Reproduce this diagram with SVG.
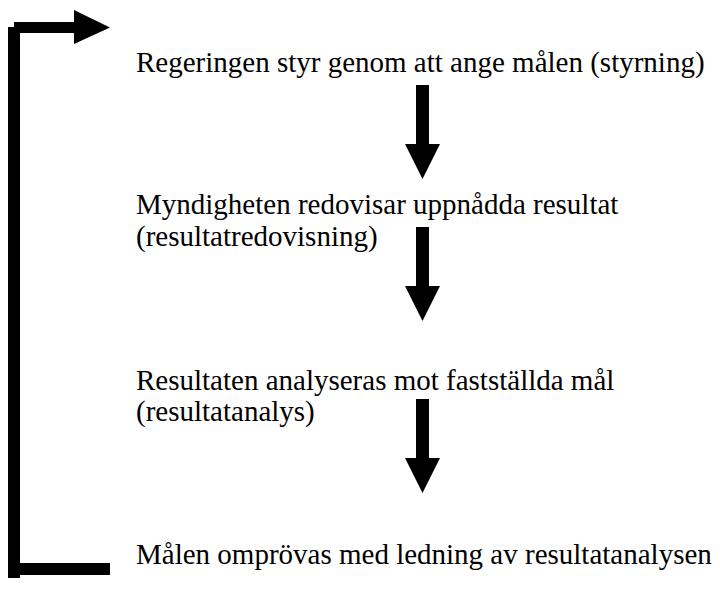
<svg xmlns="http://www.w3.org/2000/svg" width="720" height="590" viewBox="0 0 720 590">
<style>
.t{font-family:"Liberation Serif","Times New Roman",serif;font-size:29px;fill:#000}
.s{fill:#000}
</style>
<defs>
<polygon id="down" points="416,0 429,0 429,59 440,59 422.5,94 405,59 416,59"/>
</defs>
<rect width="720" height="590" fill="#fff"/>
<g id="n1"><text class="t" x="136" y="72">Regeringen styr genom att ange målen (styrning)</text></g>
<g id="n2"><text class="t" x="136" y="214">Myndigheten redovisar uppnådda resultat</text><text class="t" x="136" y="246">(resultatredovisning)</text></g>
<g id="n3"><text class="t" x="136" y="390">Resultaten analyseras mot fastställda mål</text><text class="t" x="136" y="421">(resultatanalys)</text></g>
<g id="n4"><text class="t" x="136" y="564">Målen omprövas med ledning av resultatanalysen</text></g>
<g id="connectors">
<use href="#down" class="s" y="85"/>
<use href="#down" class="s" y="227"/>
<use href="#down" class="s" y="399"/>
<rect class="s" x="8" y="27" width="12" height="551"/>
<polygon class="s" points="14,22 74,22 74,10 110,27.5 74,44 74,33 14,33"/>
<rect class="s" x="8" y="563" width="102" height="12"/>
</g>
</svg>
